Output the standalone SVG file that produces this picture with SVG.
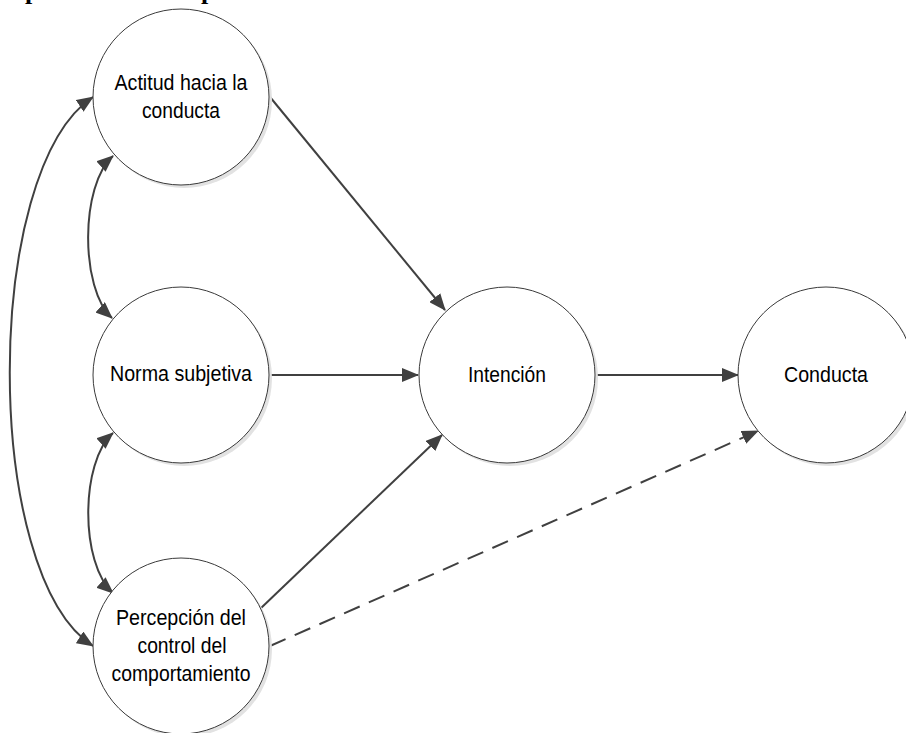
<svg xmlns="http://www.w3.org/2000/svg" width="906" height="733" viewBox="0 0 906 733">
<style>
.node circle.bg{fill:#e2e2e2;stroke:none}
.node circle.fg{fill:#ffffff;stroke:#3a3a3a;stroke-width:1}
.node text{font-family:"Liberation Sans",Arial,sans-serif;font-size:22px;fill:#000;text-anchor:middle}
.conn path{fill:none;stroke:#404040;stroke-width:2}
.conn .dash{stroke-dasharray:17 10}
.title{font-family:"Liberation Serif","Times New Roman",serif;font-weight:bold;font-size:26px;fill:#000}
</style>
<defs>
<marker id="arr" markerUnits="userSpaceOnUse" markerWidth="17" markerHeight="14" refX="16" refY="7" orient="auto-start-reverse" viewBox="0 0 17 14">
<path d="M0,0 L17,7 L0,14 z" fill="#404040"/>
</marker>
</defs>
<rect width="906" height="733" fill="#ffffff"/>
<text class="title" x="25" y="-1">p</text>
<text class="title" x="201" y="-1">p</text>
<g class="conn">
<path d="M270,97 L445,310" marker-end="url(#arr)"/>
<path d="M269,375 L418,375" marker-end="url(#arr)"/>
<path d="M260,609 L442,435" marker-end="url(#arr)"/>
<path d="M595,375 L738,375" marker-end="url(#arr)"/>
<path class="dash" d="M270,646 L758,431" marker-end="url(#arr)"/>
<path d="M113,156 C80,185 80,289 112,318" marker-start="url(#arr)" marker-end="url(#arr)"/>
<path d="M113,433 C80,462 80,564 113,593" marker-start="url(#arr)" marker-end="url(#arr)"/>
<path d="M93,97 C-18,170 -18,575 93,646" marker-start="url(#arr)" marker-end="url(#arr)"/>
</g>
<g id="actitud" class="node">
<circle class="bg" cx="184" cy="100" r="88"/>
<circle class="fg" cx="181" cy="97" r="88"/>
<text x="181" y="90" textLength="133" lengthAdjust="spacingAndGlyphs">Actitud hacia la</text>
<text x="181" y="118" textLength="78" lengthAdjust="spacingAndGlyphs">conducta</text>
</g>
<g id="norma" class="node">
<circle class="bg" cx="184" cy="378" r="88"/>
<circle class="fg" cx="181" cy="375" r="88"/>
<text x="181" y="381" textLength="142" lengthAdjust="spacingAndGlyphs">Norma subjetiva</text>
</g>
<g id="percepcion" class="node">
<circle class="bg" cx="184" cy="649" r="88"/>
<circle class="fg" cx="181" cy="646" r="88"/>
<text x="181" y="625" textLength="130" lengthAdjust="spacingAndGlyphs">Percepción del</text>
<text x="182" y="653" textLength="89" lengthAdjust="spacingAndGlyphs">control del</text>
<text x="181" y="681" textLength="139" lengthAdjust="spacingAndGlyphs">comportamiento</text>
</g>
<g id="intencion" class="node">
<circle class="bg" cx="510" cy="378" r="88"/>
<circle class="fg" cx="507" cy="375" r="88"/>
<text x="507" y="382" textLength="78" lengthAdjust="spacingAndGlyphs">Intención</text>
</g>
<g id="conducta" class="node">
<circle class="bg" cx="829" cy="378" r="88"/>
<circle class="fg" cx="826" cy="375" r="88"/>
<text x="826" y="382" textLength="84" lengthAdjust="spacingAndGlyphs">Conducta</text>
</g>
</svg>
